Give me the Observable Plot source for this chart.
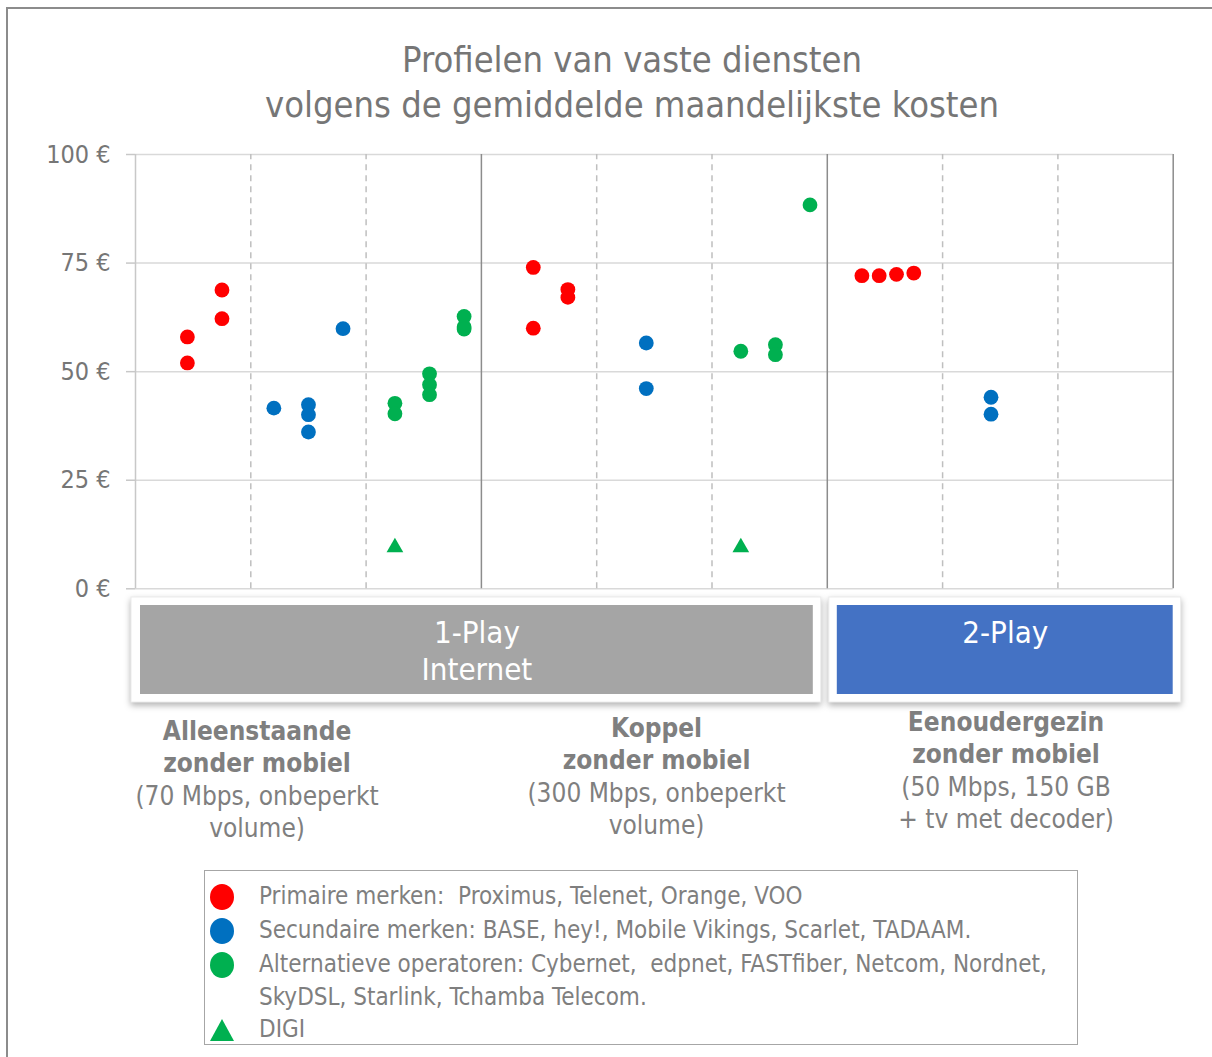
<!DOCTYPE html>
<html>
<head>
<meta charset="utf-8">
<script src="https://cdn.jsdelivr.net/npm/d3@7"></script>
<script src="https://cdn.jsdelivr.net/npm/@observablehq/plot@0.6"></script>
<style>
  body { margin: 0; background: #fff; }
  #page { position: relative; width: 1212px; height: 1057px; overflow: hidden;
          font-family: "DejaVu Sans Condensed", "DejaVu Sans", sans-serif; color: #7f7f7f; }
  #frame { position: absolute; left: 6px; top: 7px; width: 1230px; height: 1080px; border: 2px solid #8c8c8c; }
  #title { position: absolute; left: 0; width: 1264px; top: 37px; text-align: center;
           font-size: 36px; line-height: 45px; color: #767676; }
  #main { position: absolute; left: 0; top: 140px; }
  #bands { position: absolute; left: 0; top: 590px; }
  #legend { position: absolute; left: 204px; top: 870px; width: 872px; height: 173px;
            border: 1.5px solid #a6a6a6; }
  .row { position: absolute; left: 0; height: 32px; line-height: 32px; font-size: 24px;
         white-space: pre; color: #7f7f7f; }
  .row svg { position: absolute; left: 4px; top: 2px; }
  .row span { position: absolute; left: 54px; top: 0; }
</style>
</head>
<body>
<div id="page">
  <div id="frame"></div>
  <div id="title"></div>
  <div id="main"></div>
  <div id="bands"></div>
  <div id="legend"></div>
</div>
<script>
// ---------- data ----------
const titleLines = ["Profielen van vaste diensten", "volgens de gemiddelde maandelijkste kosten"];

const yTicks = [0, 25, 50, 75, 100];
const dashedBoundaries = [1, 2, 4, 5, 7, 8];
const solidBoundaries = [3, 6, 9];

const seriesNames = ["Primaire merken", "Secundaire merken", "Alternatieve operatoren", "DIGI"];

const primaireX = [0.45, 0.45, 0.75, 0.75, 3.45, 3.45, 3.75, 3.75, 6.30, 6.45, 6.60, 6.75];
const primaireY = [58.0, 52.0, 68.8, 62.2, 74.0, 60.0, 68.9, 67.1, 72.1, 72.1, 72.4, 72.7];

const secundaireX = [1.20, 1.50, 1.50, 1.50, 1.80, 4.43, 4.43, 7.42, 7.42];
const secundaireY = [41.6, 42.4, 40.1, 36.1, 59.9, 56.6, 46.1, 44.1, 40.2];

const alternatiefX = [2.25, 2.25, 2.55, 2.55, 2.55, 2.85, 2.85, 2.85, 5.25, 5.55, 5.55, 5.85];
const alternatiefY = [42.7, 40.3, 49.5, 47.0, 44.7, 62.7, 60.3, 59.8, 54.7, 56.2, 53.9, 88.4];

const digiX = [2.25, 5.25];
const digiY = [10, 10];

const bandLabels = ["1-Play\nInternet", "2-Play"];
const bandStart = [0, 6];
const bandEnd = [6, 9];

const profileNames = ["Alleenstaande\nzonder mobiel", "Koppel\nzonder mobiel", "Eenoudergezin\nzonder mobiel"];
const profileSpecs = ["(70 Mbps, onbeperkt\nvolume)", "(300 Mbps, onbeperkt\nvolume)", "(50 Mbps, 150 GB\n+ tv met decoder)"];

const legendTexts = [
  "Primaire merken:  Proximus, Telenet, Orange, VOO",
  "Secundaire merken: BASE, hey!, Mobile Vikings, Scarlet, TADAAM.",
  "Alternatieve operatoren: Cybernet,  edpnet, FASTfiber, Netcom, Nordnet,\nSkyDSL, Starlink, Tchamba Telecom.",
  "DIGI"
];

// ---------- styles / layout ----------
const seriesColors = ["#ff0000", "#0070c0", "#00b050", "#00b050"];
const bandColors = ["#a5a5a5", "#4472c4"];
const bandInnerInset = [{l: 5, r: 14}, {l: 10, r: 0}];
const bandOuterInset = [{l: -4, r: 6}, {l: 2, r: -8}];
const profileAnchorX = [1.054, 4.519, 7.55];
const profileFirstLineY = [141, 138, 132];
const lineStep = 32.4;
const FONT = '"DejaVu Sans Condensed", "DejaVu Sans", sans-serif';

document.getElementById("title").innerHTML = titleLines.join("<br>");

const toPoints = (xs, ys, s) => xs.map((x, i) => ({x, y: ys[i], series: s}));
const circles = [
  ...toPoints(primaireX, primaireY, seriesNames[0]),
  ...toPoints(secundaireX, secundaireY, seriesNames[1]),
  ...toPoints(alternatiefX, alternatiefY, seriesNames[2])
];
const triangles = toPoints(digiX, digiY, seriesNames[3]);

const xCfg = {domain: [0, 9], axis: null};

const main = Plot.plot({
  width: 1212, height: 460,
  marginLeft: 135, marginRight: 39.3, marginTop: 14, marginBottom: 11.7,
  x: xCfg,
  y: {domain: [0, 100], axis: null},
  color: {domain: seriesNames, range: seriesColors},
  style: {background: "transparent", fontFamily: FONT, overflow: "visible"},
  marks: [
    Plot.ruleY(yTicks, {stroke: "#d9d9d9", strokeWidth: 1.5}),
    Plot.ruleX(dashedBoundaries, {y1: 0, y2: 100, stroke: "#bfbfbf", strokeWidth: 1.5, strokeDasharray: "6,5"}),
    Plot.ruleX([0], {y1: 0, y2: 100, stroke: "#c8c8c8", strokeWidth: 1.5}),
    Plot.ruleX(solidBoundaries, {y1: 0, y2: 100, stroke: "#8c8c8c", strokeWidth: 1.5}),
    Plot.axisY({ticks: yTicks, tickSize: 9, tickFormat: () => "", label: null, stroke: "#c8c8c8", strokeWidth: 1.5}),
    Plot.axisY({ticks: yTicks, tickSize: 0, tickPadding: 25, tickFormat: d => `${d} €`, label: null,
                fill: "#767676", fontSize: 25}),
    Plot.dot(circles, {x: "x", y: "y", fill: "series", r: 7.4}),
    Plot.dot(triangles, {x: "x", y: "y", fill: "series", symbol: "triangle", r: 6.2, dy: 2})
  ]
});
document.getElementById("main").appendChild(main);

// ---------- bands and profile labels ----------
const bands = bandLabels.map((label, i) => ({label, x1: bandStart[i], x2: bandEnd[i]}));
const bandMarks = bands.flatMap((b, i) => [
  Plot.rect([b], {x1: "x1", x2: "x2", y1: 7, y2: 112, fill: "#ffffff", stroke: "#ececec", strokeWidth: 1,
                  insetLeft: bandOuterInset[i].l, insetRight: bandOuterInset[i].r}),
  Plot.rect([b], {x1: "x1", x2: "x2", y1: 15, y2: 104, fill: bandColors[i],
                  insetLeft: bandInnerInset[i].l, insetRight: bandInnerInset[i].r}),
  Plot.text(b.label.split("\n").map((t, k) => ({t, k, x: (b.x1 + b.x2) / 2})), {
    x: "x", y: d => 43 + d.k * 37, text: "t", fill: "#ffffff", fontSize: 31,
    dx: (bandInnerInset[i].l - bandInnerInset[i].r) / 2, lineAnchor: "middle"
  })
]);

const nameLines = profileNames.flatMap((s, i) => s.split("\n").map((t, k) => ({t, x: profileAnchorX[i], y: profileFirstLineY[i] + k * lineStep})));
const specLines = profileSpecs.flatMap((s, i) => s.split("\n").map((t, k) => ({t, x: profileAnchorX[i], y: profileFirstLineY[i] + (k + 2) * lineStep})));

const bandPlot = Plot.plot({
  width: 1212, height: 260,
  marginLeft: 135, marginRight: 39.3, marginTop: 0, marginBottom: 0,
  x: xCfg,
  y: {domain: [0, 260], range: [0, 260], axis: null},
  style: {background: "transparent", fontFamily: FONT, overflow: "visible"},
  marks: [
    ...bandMarks,
    Plot.text(nameLines, {x: "x", y: "y", text: "t", fill: "#7f7f7f", fontSize: 26, fontWeight: "bold", lineAnchor: "middle"}),
    Plot.text(specLines, {x: "x", y: "y", text: "t", fill: "#7f7f7f", fontSize: 26, lineAnchor: "middle"})
  ]
});
d3.select(bandPlot).selectAll('g[aria-label="rect"][fill="#ffffff"]')
  .style("filter", "drop-shadow(0px 3px 3px rgba(0,0,0,0.30))");
document.getElementById("bands").appendChild(bandPlot);

// ---------- legend ----------
const legend = document.getElementById("legend");
const rowTops = [9, 43, 77, 142];
legendTexts.forEach((txt, i) => {
  const row = document.createElement("div");
  row.className = "row";
  row.style.top = rowTops[i] + "px";
  row.style.width = "860px";
  const shape = i < 3
    ? `<svg width="28" height="30"><ellipse cx="13" cy="15" rx="12" ry="13" fill="${seriesColors[i]}"/></svg>`
    : `<svg width="28" height="30"><path d="M13,4 L25,26 L1,26 Z" fill="${seriesColors[i]}"/></svg>`;
  row.innerHTML = shape + `<span style="line-height:33px">${txt}</span>`;
  legend.appendChild(row);
});
</script>
</body>
</html>
